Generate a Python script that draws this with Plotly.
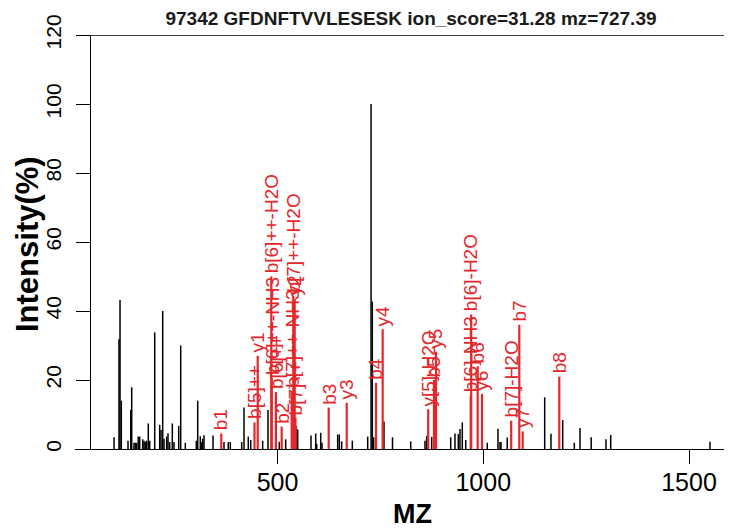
import plotly.graph_objects as go

# ---- data -------------------------------------------------------------
title_text = "97342 GFDNFTVVLESESK ion_score=31.28 mz=727.39"

peak_mz = [102.7, 114.8, 117.3, 120.4, 136.7, 143.3, 145.7, 151.3, 154.4, 157.8,
           161.7, 165.1, 172.4, 175.6, 178.7, 182.1, 186.0, 189.4, 201.6, 213.7,
           216.9, 221.0, 224.2, 230.7, 233.9, 238.0, 244.4, 248.5, 259.9, 264.8,
           276.0, 302.7, 306.1, 312.4, 315.8, 318.2, 321.4, 343.3, 370.0, 380.4,
           385.3, 413.0, 418.6, 429.0, 434.9, 464.0, 476.9, 495.6, 504.4, 519.9,
           545.0, 549.1, 581.4, 592.8, 595.3, 605.0, 608.1, 646.3, 650.2, 656.0,
           681.8, 719.2, 727.4, 730.4, 733.8, 758.8, 779.5, 823.7, 858.4, 862.6,
           874.7, 920.9, 931.3, 939.4, 943.5, 949.1, 957.4, 1009.8, 1035.8, 1040.7,
           1043.1, 1058.2, 1149.3, 1164.6, 1193.1, 1221.3, 1235.1, 1262.3, 1298.3, 1309.7,
           1551.0]
peak_int = [3.4, 31.8, 43.2, 14.0, 2.4, 11.3, 17.9, 1.8, 1.8, 1.8,
            3.6, 3.6, 2.8, 2.4, 2.1, 2.4, 7.4, 2.4, 33.8, 7.0,
            5.5, 40.0, 3.0, 3.6, 4.6, 2.0, 7.4, 2.0, 6.7, 30.0,
            1.8, 2.4, 14.0, 3.7, 2.0, 3.0, 4.0, 3.9, 2.0, 2.0,
            2.0, 2.0, 12.0, 3.6, 2.6, 2.4, 11.3, 14.8, 2.1, 2.8,
            6.7, 5.7, 3.9, 4.5, 1.5, 4.7, 1.8, 4.2, 4.2, 2.2,
            2.4, 3.6, 100.0, 42.7, 3.4, 8.0, 3.4, 2.2, 2.4, 3.8,
            3.5, 3.4, 4.5, 4.3, 5.8, 7.7, 2.6, 1.8, 5.9, 2.0,
            2.0, 3.3, 15.0, 4.4, 8.4, 1.8, 6.1, 3.4, 2.8, 4.1,
            2.1]

ion_mz = [363.4, 444.1, 451.9, 484.9, 486.1, 496.1, 510.2, 534.5, 538.4, 541.8,
          543.7, 624.4, 668.2, 739.4, 755.6, 866.2, 880.3, 885.2, 969.5, 970.7,
          986.5, 997.0, 1067.9, 1087.6, 1095.9, 1184.8]
ion_int = [4.5, 7.7, 27.0, 50.0, 20.5, 16.5, 6.5, 16.8, 44.4, 43.5,
           9.0, 12.0, 13.4, 19.2, 34.7, 11.5, 20.0, 28.2, 15.5, 39.0,
           24.0, 16.0, 8.2, 36.0, 5.1, 21.0]
ion_labels = ["b1", "b[5]++", "y1", "b[6]++-H2O", "b[6]++-NH3", "b[6]++", "b2",
              "b[7]++-NH3", "b[7]++-H2O", "y2", "b[7]++", "b3", "y3", "b4", "y4",
              "y[5]-H2O", "b5", "y5", "b[6]-NH3", "b[6]-H2O", "b6", "y6",
              "b[7]-H2O", "b7", "y7", "b8"]

x_ticks = [500, 1000, 1500]
y_ticks = [0, 20, 40, 60, 80, 100, 120]

# ---- helpers ----------------------------------------------------------
def stems(mz, inten):
    xs, ys = [], []
    for m, v in zip(mz, inten):
        xs += [m, m, None]
        ys += [0, v, None]
    return xs, ys

RED = "#E5262A"
FONT = "Liberation Sans, Arial, sans-serif"

# page body has an 8px margin: figure is drawn 8px right/down
OFF = 8
W, H = 732 - OFF, 529 - OFF
L, R, T, B = 75 - OFF, 0, 35 - OFF, 80
pw, ph = W - L - R, H - T - B

def px_x(p):          # reference pixel -> paper fraction
    return (p - OFF - L) / pw

def px_y(p):
    return (H - B - (p - OFF)) / ph

bx, by = stems(peak_mz, peak_int)
rx, ry = stems(ion_mz, ion_int)

fig = go.Figure()
fig.add_trace(go.Scatter(x=bx, y=by, mode="lines",
                         line=dict(color="black", width=1.5),
                         hoverinfo="skip", showlegend=False))
fig.add_trace(go.Scatter(x=rx, y=ry, mode="lines",
                         line=dict(color=RED, width=2.2),
                         hoverinfo="skip", showlegend=False))

annotations = []
for m, v, lab in zip(ion_mz, ion_int, ion_labels):
    annotations.append(dict(x=m, y=v, xref="x", yref="y", text=lab,
                            textangle=-90, showarrow=False,
                            xanchor="center", yanchor="bottom", yshift=1,
                            font=dict(family=FONT, size=19, color=RED)))

annotations.append(dict(x=px_x(412), y=px_y(514), xref="paper", yref="paper",
                        text="<b>MZ</b>", showarrow=False,
                        xanchor="center", yanchor="middle",
                        font=dict(family=FONT, size=27, color="black")))
annotations.append(dict(x=px_x(27), y=px_y(244), xref="paper", yref="paper",
                        text="<b>Intensity(%)</b>", textangle=-90, showarrow=False,
                        xanchor="center", yanchor="middle",
                        font=dict(family=FONT, size=31, color="black")))

fig.update_layout(
    width=W, height=H,
    margin=dict(l=L, r=R, t=T, b=B, pad=0),
    paper_bgcolor="white", plot_bgcolor="white",
    annotations=annotations,
    title=dict(text="<b>" + title_text + "</b>", x=(411 - OFF) / W, xanchor="center",
               y=1 - (18 - OFF) / H, yanchor="middle", xref="container", yref="container",
               font=dict(family=FONT, size=19, color="#1a1a1a")),
    xaxis=dict(range=[7.9, 1604.5], tickvals=x_ticks, ticktext=[str(t) for t in x_ticks],
               ticks="outside", ticklen=14, tickwidth=1.4, tickcolor="black",
               showline=True, linecolor="black", linewidth=1.4,
               showgrid=False, zeroline=False,
               tickfont=dict(family=FONT, size=25, color="black"),
               ticklabelstandoff=-3),
    yaxis=dict(range=[0, 120], tickvals=y_ticks, ticktext=[str(t) for t in y_ticks],
               ticks="outside", ticklen=14, tickwidth=1.4, tickcolor="black",
               showline=True, linecolor="black", linewidth=1.4,
               showgrid=False, zeroline=False, tickangle=-90,
               anchor="free", position=(90 - OFF - L) / pw,
               tickfont=dict(family=FONT, size=21, color="black"),
               ticklabelstandoff=6),
    shapes=[dict(type="line", xref="x", yref="y", x0=44.4, x1=1604.5, y0=120, y1=120,
                 line=dict(color="black", width=1.4))],
)

fig.write_html("out.html")
